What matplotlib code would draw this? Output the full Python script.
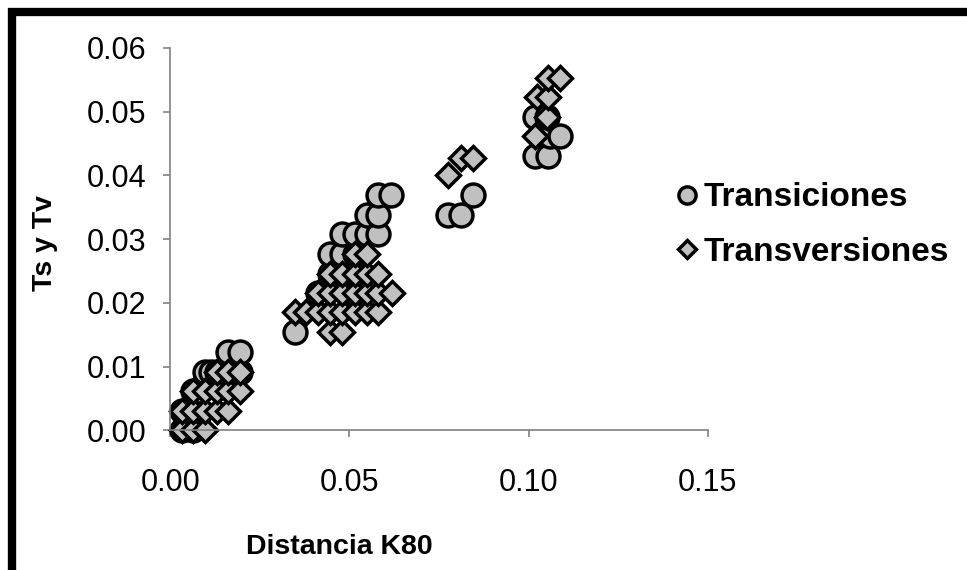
import matplotlib.pyplot as plt
from matplotlib.patches import Rectangle
from matplotlib.ticker import FormatStrFormatter

plt.rcParams['font.family'] = ['Liberation Sans', 'DejaVu Sans']

# Transiciones (circles)
ts_x = [0.0033, 0.0064, 0.0033, 0.0050, 0.0064, 0.0080, 0.0098, 0.0115, 0.0130, 0.0195,
        0.0160, 0.0195,
        0.0349, 0.0413, 0.0430, 0.0516, 0.0446, 0.0480, 0.0446, 0.0480, 0.0516,
        0.0480, 0.0516, 0.0550, 0.0580, 0.0550, 0.0580, 0.0580, 0.0615,
        0.0775, 0.0810, 0.0845,
        0.1018, 0.1054, 0.1060, 0.1087, 0.1018, 0.1050]
ts_y = [0.0000, 0.0000, 0.0031, 0.0031, 0.0062, 0.0062, 0.0092, 0.0092, 0.0092, 0.0092,
        0.0123, 0.0123,
        0.0154, 0.0215, 0.0215, 0.0215, 0.0246, 0.0246, 0.0277, 0.0277, 0.0277,
        0.0308, 0.0308, 0.0308, 0.0308, 0.0338, 0.0338, 0.0369, 0.0369,
        0.0338, 0.0338, 0.0369,
        0.0431, 0.0431, 0.0462, 0.0462, 0.0492, 0.0492]

# Transversiones (diamonds)
tv_x = [0.0033, 0.0064, 0.0098,
        0.0033, 0.0064, 0.0098, 0.0130, 0.0160,
        0.0064, 0.0098, 0.0130, 0.0160, 0.0195,
        0.0130, 0.0160, 0.0195,
        0.0446, 0.0480,
        0.0349, 0.0380, 0.0413, 0.0446, 0.0480, 0.0516, 0.0550, 0.0580,
        0.0413, 0.0446, 0.0480, 0.0516, 0.0550, 0.0580, 0.0620,
        0.0446, 0.0480, 0.0516, 0.0550, 0.0580,
        0.0516, 0.0550,
        0.0775, 0.0810, 0.0845,
        0.1018, 0.1050, 0.1023, 0.1054, 0.1054, 0.1087]
tv_y = [0.0000, 0.0000, 0.0000,
        0.0031, 0.0031, 0.0031, 0.0031, 0.0031,
        0.0062, 0.0062, 0.0062, 0.0062, 0.0062,
        0.0092, 0.0092, 0.0092,
        0.0154, 0.0154,
        0.0185, 0.0185, 0.0185, 0.0185, 0.0185, 0.0185, 0.0185, 0.0185,
        0.0215, 0.0215, 0.0215, 0.0215, 0.0215, 0.0215, 0.0215,
        0.0246, 0.0246, 0.0246, 0.0246, 0.0246,
        0.0277, 0.0277,
        0.0400, 0.0428, 0.0428,
        0.0462, 0.0492, 0.0523, 0.0523, 0.0553, 0.0553]

x_ticks = [0.00, 0.05, 0.10, 0.15]
y_ticks = [0.00, 0.01, 0.02, 0.03, 0.04, 0.05, 0.06]

fig = plt.figure(figsize=(9.67, 5.70), dpi=100)
ax = fig.add_axes([0.176, 0.245, 0.556, 0.671])

ax.plot(ts_x, ts_y, 'o', ms=16.5, mfc='#c0c0c0', mec='black', mew=2.5,
        label='Transiciones', clip_on=False)
ax.plot(tv_x, tv_y, 'D', ms=12, mfc='#c0c0c0', mec='black', mew=2.5,
        label='Transversiones', clip_on=False)

ax.set_xlim(0, 0.15)
ax.set_ylim(0, 0.06)
ax.set_xticks(x_ticks)
ax.set_yticks(y_ticks)
ax.xaxis.set_major_formatter(FormatStrFormatter('%.2f'))
ax.yaxis.set_major_formatter(FormatStrFormatter('%.2f'))
for s in ['top', 'right']:
    ax.spines[s].set_visible(False)
for s in ['left', 'bottom']:
    ax.spines[s].set_color('#808080')
    ax.spines[s].set_linewidth(1.2)
ax.tick_params(axis='both', colors='#808080', labelcolor='black', direction='out',
               length=5, width=1.2, labelsize=22)
ax.tick_params(axis='x', pad=22)
ax.tick_params(axis='y', pad=12)

ax.set_xlabel('Distancia K80', fontsize=20.5, fontweight='bold')
ax.xaxis.set_label_coords(0.314, -0.272)
ax.set_ylabel('Ts y Tv', fontsize=20.5, fontweight='bold')
ax.yaxis.set_label_coords(-0.208, 0.49)

leg = ax.legend(loc='center left', bbox_to_anchor=(0.662, 0.605), bbox_transform=fig.transFigure,
                frameon=False, prop={'weight': 'bold', 'size': 24}, handletextpad=0.0,
                labelspacing=0.7, handlelength=1.0, markerscale=0.75)

# outer frame (right and bottom edges fall outside the picture)
fig.patches.append(Rectangle((12 / 967, -0.1), 1.2, 1 - 12 / 570 + 0.1, transform=fig.transFigure,
                             fill=False, edgecolor='black', linewidth=6, zorder=10))

fig.savefig('out.png', dpi=100)
